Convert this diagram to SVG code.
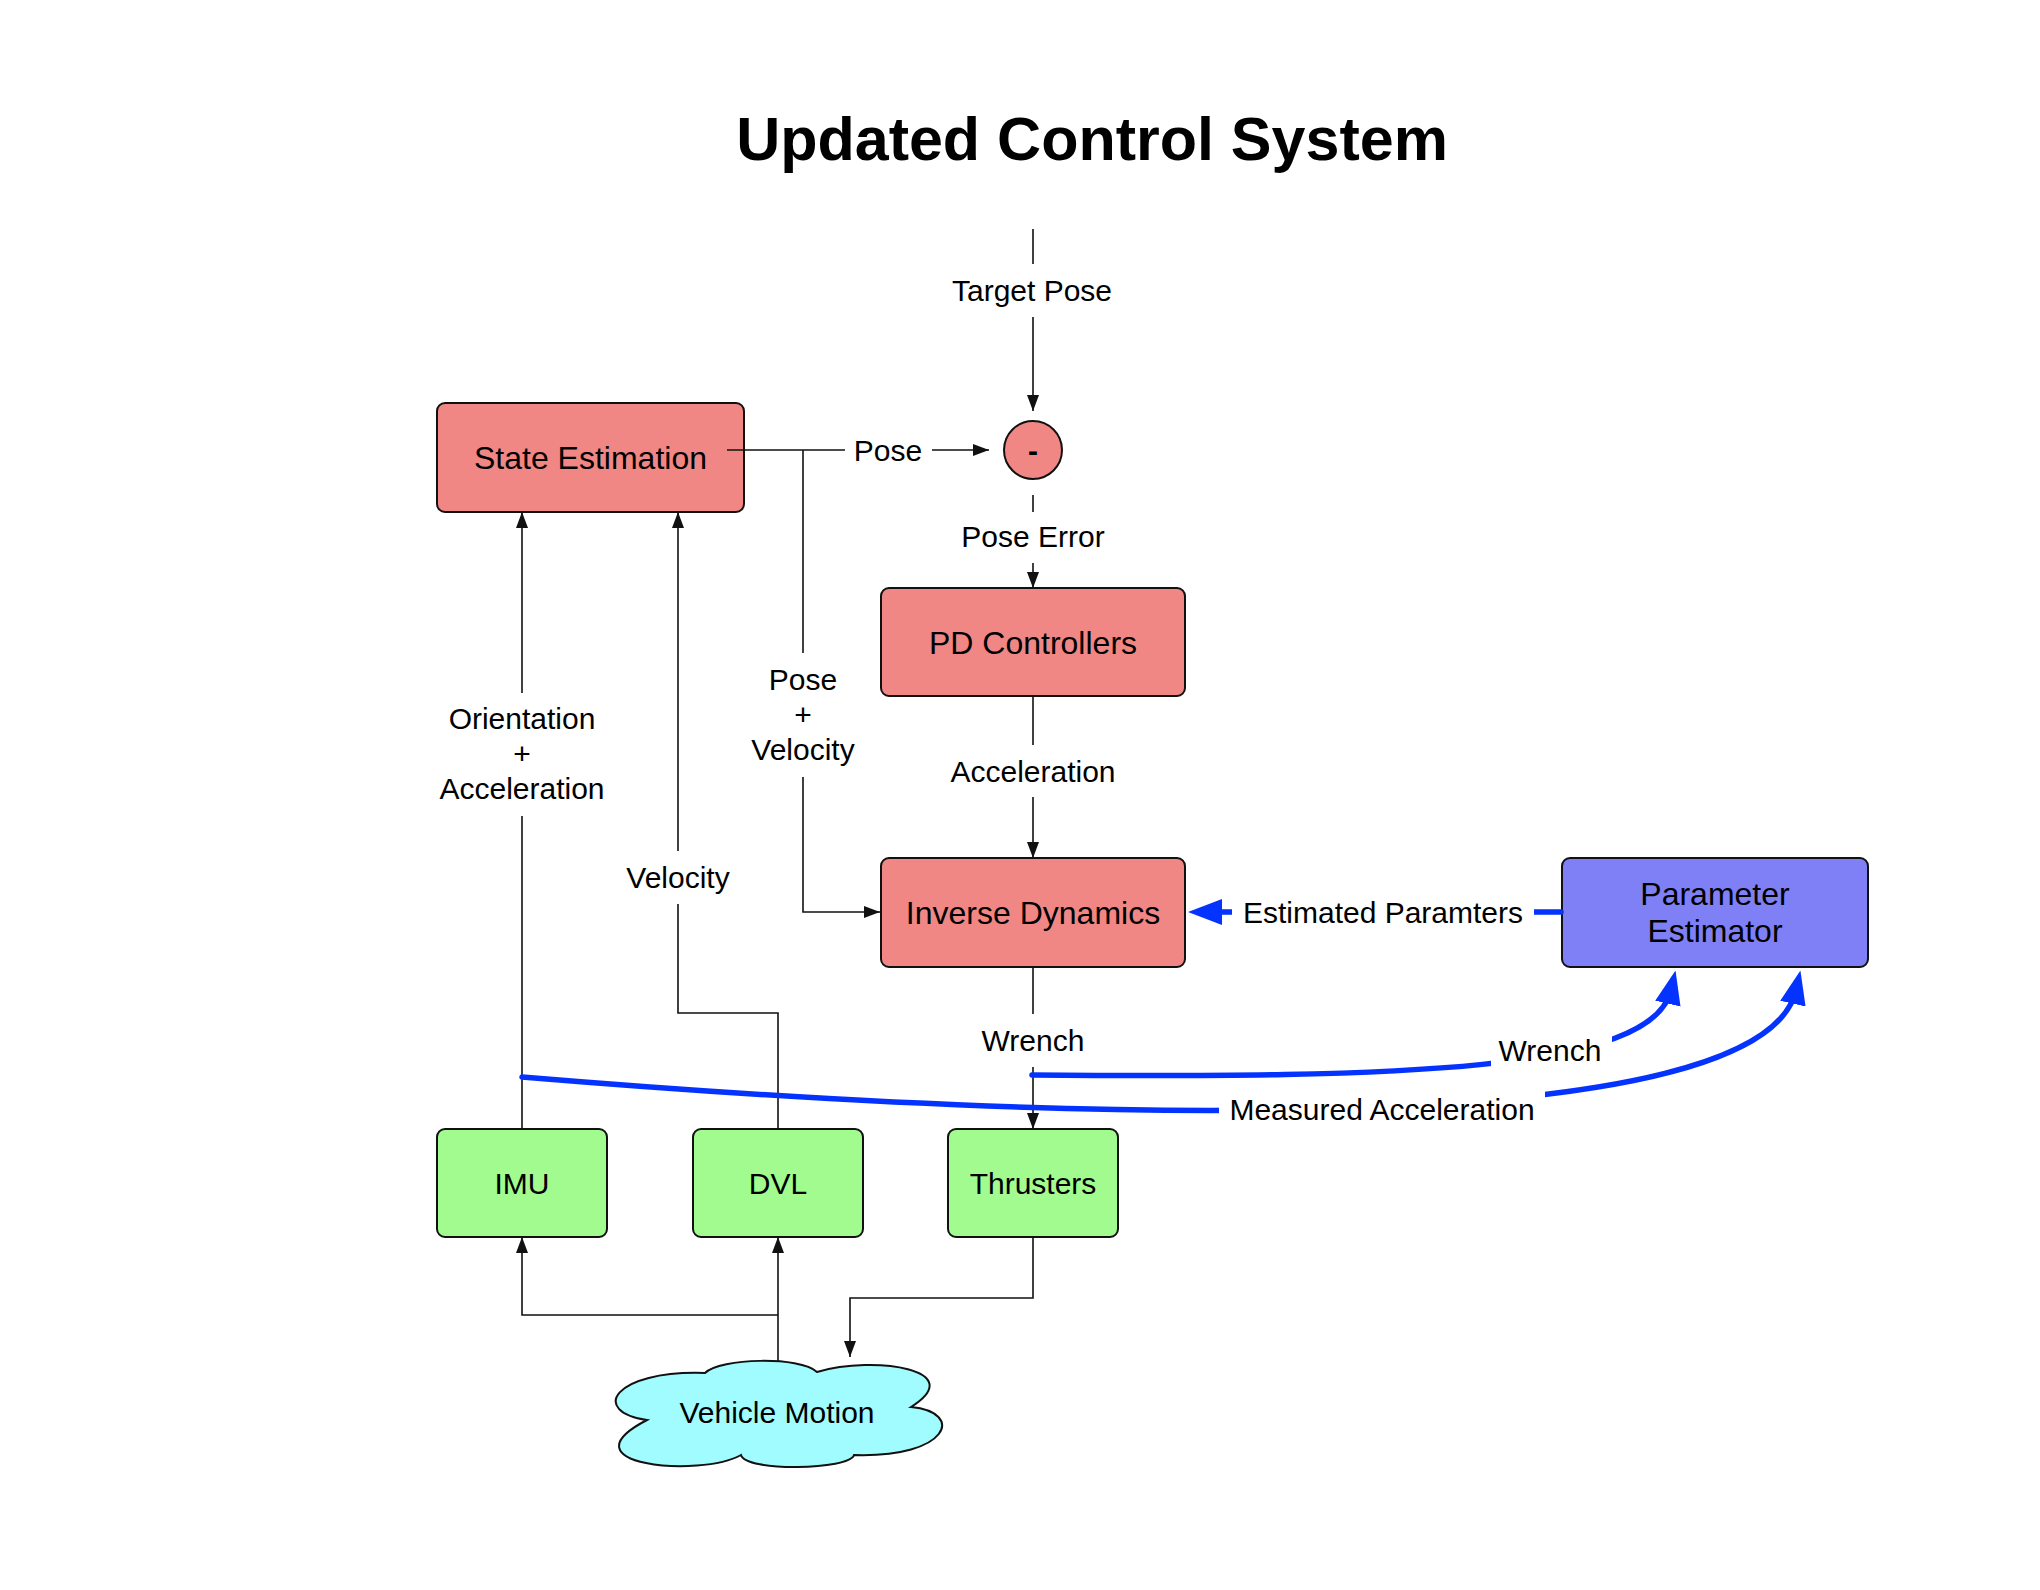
<svg xmlns="http://www.w3.org/2000/svg" width="2040" height="1590" viewBox="0 0 2040 1590">
<defs>
<style>
.box{stroke:#111;stroke-width:2}
.red{fill:#f08784}
.green{fill:#a1fb8e}
.blue{fill:#7f80f6}
.cloud{fill:#a0fcff;stroke:#111;stroke-width:2}
.t{font-family:"Liberation Sans",Arial,Helvetica,sans-serif;fill:#000;text-anchor:middle}
.t32{font-size:32px}
.t30{font-size:30px}
.title{font-size:61px;font-weight:bold}
.c{fill:none;stroke:#111;stroke-width:1.6}
.b{fill:none;stroke:#0433ff;stroke-width:5.5;stroke-linecap:round}
.bg{fill:#fff}
</style>
<marker id="ah" markerUnits="userSpaceOnUse" markerWidth="16" markerHeight="12" refX="16" refY="6" orient="auto"><path d="M0,0 L16,6 L0,12 Z" fill="#111"/></marker>
<marker id="bh" markerUnits="userSpaceOnUse" markerWidth="34" markerHeight="26" refX="14" refY="13" orient="auto"><path d="M0,0 L34,13 L0,26 Z" fill="#0433ff"/></marker>
</defs>
<rect x="0" y="0" width="2040" height="1590" fill="#fff"/>
<text class="t title" x="1092" y="160">Updated Control System</text>

<g id="state-estimation"><rect class="box red" x="437" y="403" width="307" height="109" rx="8"/><text class="t t32" x="590.5" y="469">State Estimation</text></g>
<g id="sum"><circle class="box red" cx="1033" cy="450" r="29"/><text class="t t30" x="1033" y="461" font-weight="bold">-</text></g>
<g id="pd-controllers"><rect class="box red" x="881" y="588" width="304" height="108" rx="8"/><text class="t t32" x="1033" y="653.5">PD Controllers</text></g>
<g id="inverse-dynamics"><rect class="box red" x="881" y="858" width="304" height="109" rx="8"/><text class="t t32" x="1033" y="924">Inverse Dynamics</text></g>
<g id="parameter-estimator"><rect class="box blue" x="1562" y="858" width="306" height="109" rx="8"/><text class="t t32" x="1715" y="905">Parameter</text><text class="t t32" x="1715" y="942">Estimator</text></g>
<g id="imu"><rect class="box green" x="437" y="1129" width="170" height="108" rx="8"/><text class="t t30" x="522" y="1194">IMU</text></g>
<g id="dvl"><rect class="box green" x="693" y="1129" width="170" height="108" rx="8"/><text class="t t30" x="778" y="1194">DVL</text></g>
<g id="thrusters"><rect class="box green" x="948" y="1129" width="170" height="108" rx="8"/><text class="t t30" x="1033" y="1194">Thrusters</text></g>
<g id="vehicle-motion"><path class="cloud" d="M647,1420 C590,1412 612,1370 705,1373 C720,1358 800,1356 817,1372 C875,1355 970,1370 911,1407 C965,1412 950,1458 854,1455 C850,1470 745,1472 741,1455 C700,1478 560,1465 647,1420 Z"/><text class="t t30" x="777" y="1423">Vehicle Motion</text></g>

<g id="connectors">
<path class="c" d="M1033,229 V264"/>
<path class="c" d="M1033,317 V411" marker-end="url(#ah)"/>
<path class="c" d="M1033,495 V512"/>
<path class="c" d="M1033,563 V588" marker-end="url(#ah)"/>
<path class="c" d="M727,450 H845"/>
<path class="c" d="M932,450 H989" marker-end="url(#ah)"/>
<path class="c" d="M803,450 V653"/>
<path class="c" d="M803,777 V912 H880" marker-end="url(#ah)"/>
<path class="c" d="M1033,696 V745"/>
<path class="c" d="M1033,797 V858" marker-end="url(#ah)"/>
<path class="c" d="M1033,967 V1014"/>
<path class="c" d="M1033,1067 V1129" marker-end="url(#ah)"/>
<path class="c" d="M522,1129 V816"/>
<path class="c" d="M522,693 V512" marker-end="url(#ah)"/>
<path class="c" d="M778,1129 V1013 H678 V904"/>
<path class="c" d="M678,851 V512" marker-end="url(#ah)"/>
<path class="c" d="M778,1361 V1237" marker-end="url(#ah)"/>
<path class="c" d="M778,1315 H522 V1237" marker-end="url(#ah)"/>
<path class="c" d="M1033,1237 V1298 H850 V1357" marker-end="url(#ah)"/>
<path class="b" d="M1561,912 H1208" marker-end="url(#bh)"/>
<path class="b" d="M1032,1075 C1400,1078 1652,1072 1671,990" marker-end="url(#bh)"/>
<path class="b" d="M522,1077 C1100,1125 1762,1140 1796,990" marker-end="url(#bh)"/>
</g>

<g id="labels">
<text class="t t30" x="1032" y="301">Target Pose</text>
<text class="t t30" x="888" y="461">Pose</text>
<text class="t t30" x="1033" y="547">Pose Error</text>
<text class="t t30" x="803" y="690">Pose</text>
<text class="t t30" x="803" y="725">+</text>
<text class="t t30" x="803" y="760">Velocity</text>
<text class="t t30" x="522" y="729">Orientation</text>
<text class="t t30" x="522" y="764">+</text>
<text class="t t30" x="522" y="799">Acceleration</text>
<text class="t t30" x="678" y="888">Velocity</text>
<text class="t t30" x="1033" y="782">Acceleration</text>
<text class="t t30" x="1033" y="1051">Wrench</text>
<rect class="bg" x="1232" y="893" width="302" height="38"/>
<text class="t t30" x="1383" y="923">Estimated Paramters</text>
<rect class="bg" x="1491" y="1025" width="121" height="47"/>
<text class="t t30" x="1550" y="1061">Wrench</text>
<rect class="bg" x="1219" y="1086" width="326" height="48"/>
<text class="t t30" x="1382" y="1120">Measured Acceleration</text>
</g>
</svg>
